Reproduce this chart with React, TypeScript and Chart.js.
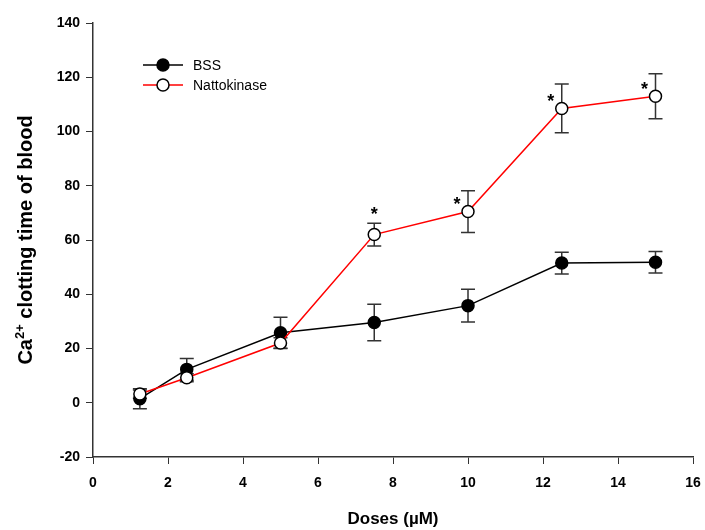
import React, { useEffect, useRef } from "react";
import { Chart, registerables } from "chart.js";

Chart.register(...registerables);

const doses = [1.25, 2.5, 5, 7.5, 10, 12.5, 15];
const bssValues = [1.5, 12.3, 25.8, 29.6, 35.8, 51.5, 51.8];
const bssErrors = [3.7, 4, 5.7, 6.7, 6, 4, 4];
const nattoValues = [3.2, 9.2, 22, 62, 70.5, 108.5, 113];
const nattoErrors = [1.5, 1.5, 2, 4.2, 7.7, 9, 8.3];
const nattoSignificant = [false, false, false, true, true, true, true];
const seriesNames = ["BSS", "Nattokinase"];
const xTitle = "Doses (\u00B5M)";
const yTitleParts = ["Ca", "2+", " clotting time of blood"];

const FONT = "Arial, 'Liberation Sans', sans-serif";

const errorBarPlugin = {
  id: "errorBars",
  beforeDatasetsDraw(chart: any) {
    const ctx = chart.ctx;
    const ys = chart.scales.y;
    const xs = chart.scales.x;
    const sets = [
      { v: bssValues, e: bssErrors },
      { v: nattoValues, e: nattoErrors },
    ];
    ctx.save();
    ctx.strokeStyle = "#333333";
    ctx.lineWidth = 1.5;
    sets.forEach((s) => {
      doses.forEach((d, i) => {
        const x = xs.getPixelForValue(d);
        const yt = ys.getPixelForValue(s.v[i] + s.e[i]);
        const yb = ys.getPixelForValue(s.v[i] - s.e[i]);
        ctx.beginPath();
        ctx.moveTo(x, yt);
        ctx.lineTo(x, yb);
        ctx.moveTo(x - 7, yt);
        ctx.lineTo(x + 7, yt);
        ctx.moveTo(x - 7, yb);
        ctx.lineTo(x + 7, yb);
        ctx.stroke();
      });
    });
    ctx.restore();
  },
  afterDatasetsDraw(chart: any) {
    const ctx = chart.ctx;
    const ys = chart.scales.y;
    const xs = chart.scales.x;
    ctx.save();
    ctx.fillStyle = "#000";
    ctx.font = `bold 18px ${FONT}`;
    ctx.textAlign = "center";
    ctx.textBaseline = "middle";
    doses.forEach((d, i) => {
      if (!nattoSignificant[i]) return;
      const x = xs.getPixelForValue(d);
      const y = ys.getPixelForValue(nattoValues[i]);
      if (i === 3) {
        const yt = ys.getPixelForValue(nattoValues[i] + nattoErrors[i]);
        ctx.fillText("*", x, yt - 8);
      } else {
        ctx.fillText("*", x - 11, y - 6);
      }
    });
    // legend
    const items = [
      { name: seriesNames[0], color: "#000", fill: "#000" },
      { name: seriesNames[1], color: "#ff0000", fill: "#fff" },
    ];
    items.forEach((it, k) => {
      const y = 65 + k * 20;
      ctx.strokeStyle = it.color;
      ctx.lineWidth = 1.5;
      ctx.beginPath();
      ctx.moveTo(143, y);
      ctx.lineTo(183, y);
      ctx.stroke();
      ctx.beginPath();
      ctx.arc(163, y, 6, 0, Math.PI * 2);
      ctx.fillStyle = it.fill;
      ctx.fill();
      ctx.strokeStyle = "#000";
      ctx.stroke();
      ctx.fillStyle = "#000";
      ctx.font = `14px ${FONT}`;
      ctx.textAlign = "left";
      ctx.fillText(it.name, 193, y + 1);
    });
    ctx.restore();

    // y-axis title with superscript
    ctx.save();
    const area = chart.chartArea;
    const cy = (area.top + area.bottom) / 2;
    const mainFont = `bold 20px ${FONT}`;
    const supFont = `bold 13px ${FONT}`;
    ctx.font = mainFont;
    const w0 = ctx.measureText(yTitleParts[0]).width;
    const w2 = ctx.measureText(yTitleParts[2]).width;
    ctx.font = supFont;
    const w1 = ctx.measureText(yTitleParts[1]).width;
    const total = w0 + w1 + w2;
    ctx.translate(32, cy);
    ctx.rotate(-Math.PI / 2);
    ctx.fillStyle = "#000";
    ctx.textAlign = "left";
    ctx.textBaseline = "alphabetic";
    let x = -total / 2;
    ctx.font = mainFont;
    ctx.fillText(yTitleParts[0], x, 0);
    x += w0;
    ctx.font = supFont;
    ctx.fillText(yTitleParts[1], x, -8);
    x += w1;
    ctx.font = mainFont;
    ctx.fillText(yTitleParts[2], x, 0);
    ctx.restore();
  },
};

export default function App() {
  const ref = useRef<HTMLCanvasElement>(null);
  useEffect(() => {
    if (!ref.current) return;
    const chart = new Chart(ref.current, {
      type: "line",
      data: {
        datasets: [
          {
            label: seriesNames[0],
            data: doses.map((d, i) => ({ x: d, y: bssValues[i] })),
            borderColor: "#000",
            borderWidth: 1.5,
            backgroundColor: "#000",
            pointBackgroundColor: "#000",
            pointBorderColor: "#000",
            pointRadius: 6,
            pointBorderWidth: 1.5,
            order: 1,
          },
          {
            label: seriesNames[1],
            data: doses.map((d, i) => ({ x: d, y: nattoValues[i] })),
            borderColor: "#ff0000",
            borderWidth: 1.5,
            backgroundColor: "#fff",
            pointBackgroundColor: "#fff",
            pointBorderColor: "#000",
            pointRadius: 6,
            pointBorderWidth: 1.5,
            order: 0,
          },
        ],
      },
      options: {
        responsive: false,
        animation: false,
        layout: { padding: { top: 23, right: 12, left: 0, bottom: 0 } },
        plugins: { legend: { display: false }, tooltip: { enabled: false } },
        scales: {
          x: {
            type: "linear",
            min: 0,
            max: 16,
            ticks: {
              stepSize: 2,
              color: "#000",
              font: { family: FONT, size: 14, weight: "bold" },
              padding: 11,
            },
            grid: { drawOnChartArea: false, drawTicks: true, tickLength: 7, color: "#333" },
            border: { display: true, color: "#333", width: 1.5 },
            title: {
              display: true,
              text: xTitle,
              color: "#000",
              font: { family: FONT, size: 17, weight: "bold" },
              padding: { top: 10, bottom: 0 },
            },
            afterFit(scale: any) {
              scale.height = 73;
              scale.paddingLeft = 0;
              scale.paddingRight = 0;
            },
          },
          y: {
            min: -20,
            max: 140,
            ticks: {
              stepSize: 20,
              color: "#000",
              font: { family: FONT, size: 14, weight: "bold" },
              padding: 6,
            },
            grid: { drawOnChartArea: false, drawTicks: true, tickLength: 7, color: "#333" },
            border: { display: true, color: "#333", width: 1.5 },
            afterFit(scale: any) {
              scale.width = 93;
              scale.paddingTop = 0;
              scale.paddingBottom = 0;
            },
          },
        },
      },
      plugins: [errorBarPlugin],
    });
    return () => chart.destroy();
  }, []);
  return (
    <div style={{ position: "fixed", left: 0, top: 0, width: 705, height: 530, background: "#fff" }}>
      <canvas ref={ref} width={705} height={530} />
    </div>
  );
}
